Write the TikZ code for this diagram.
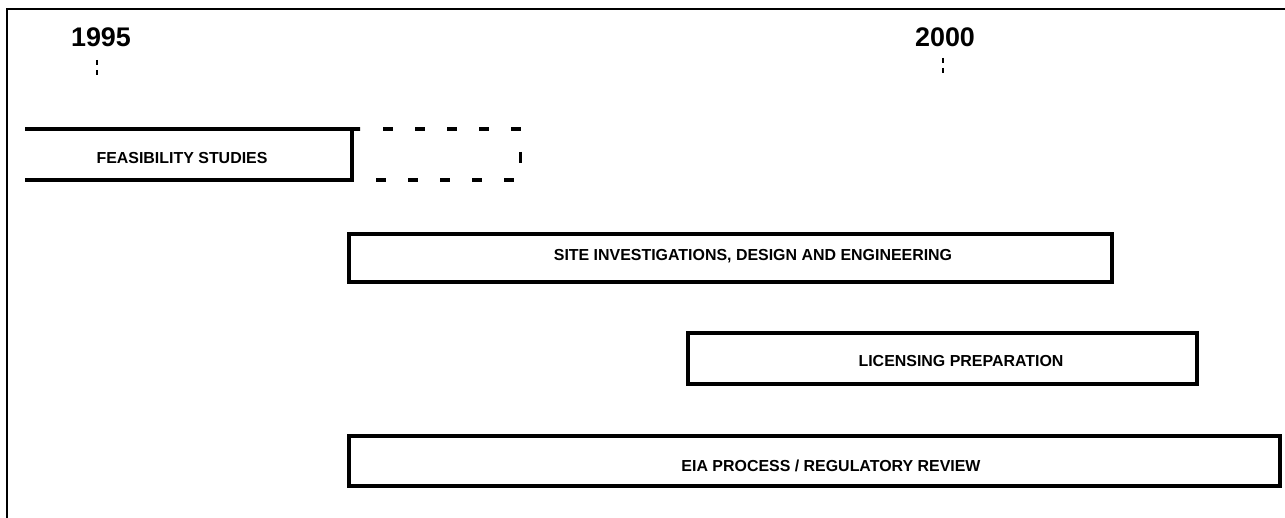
\documentclass[tikz,border=0pt]{standalone}
\usepackage{fontspec}
\setmainfont{Liberation Sans}
\begin{document}
\begin{tikzpicture}[x=1bp,y=-1bp,
  bar/.style={line width=3.2bp},
  lbl/.style={font=\bfseries\fontsize{16}{18}\selectfont, inner sep=0pt},
  yr/.style={font=\bfseries\fontsize{27}{30}\selectfont, inner sep=0pt},
  tick/.style={line width=1.4bp, dash pattern=on 5bp off 5bp},
  dashbar/.style={line width=3.2bp, dash pattern=on 10bp off 22bp}]
\useasboundingbox (0,0) rectangle (1285,518);
% frame
\draw[line width=1.8bp] (7,518) -- (7,9) -- (1285,9);
% years
\node[yr] (y1995) at (101,37) {1995};
\node[yr] (y2000) at (945,37) {2000};
\draw[tick] (97,60) -- (97,77);
\draw[tick] (943,58) -- (943,78);
% feasibility
\draw[bar] (25,129) -- (360,129) -- (352,129) -- (352,180) -- (25,180);
\node[lbl] (feas) at (182,158) {FEASIBILITY STUDIES};
% dashed extension
\draw[dashbar] (383,129) -- (530,129);
\draw[dashbar] (376,180) -- (525,180);
\draw[line width=3bp] (520,152) -- (520,163);
% site
\draw[bar] (349,234) rectangle (1112,282);
\node[lbl] (site) at (753,256) {SITE INVESTIGATIONS, DESIGN AND ENGINEERING};
% licensing
\draw[bar] (688,333) rectangle (1197,384);
\node[lbl] (lic) at (961,361) {LICENSING PREPARATION};
% EIA
\draw[bar] (349,436) rectangle (1280,486);
\node[lbl] (eia) at (831,466) {EIA PROCESS / REGULATORY REVIEW};
\end{tikzpicture}
\end{document}
